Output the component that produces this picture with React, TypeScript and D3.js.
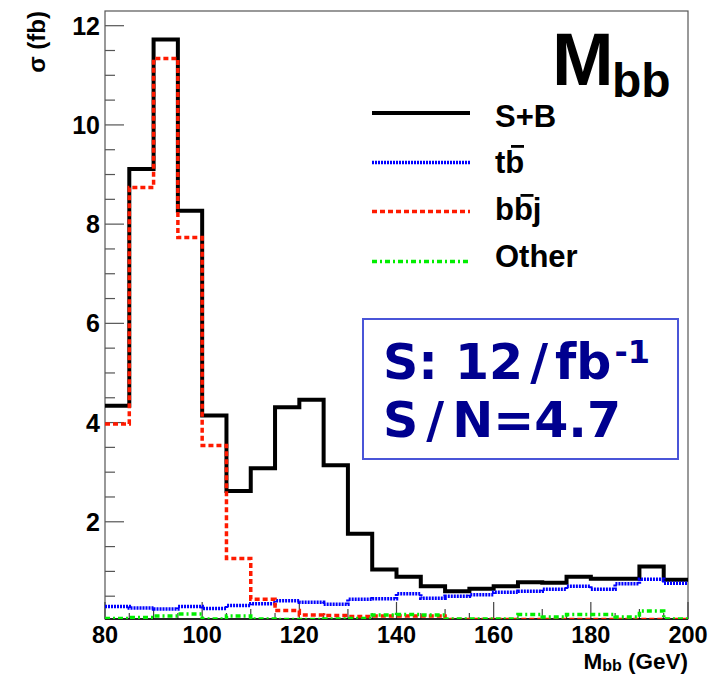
import React from "react";
import * as d3 from "d3";

const binEdges = [80, 85, 90, 95, 100, 105, 110, 115, 120, 125, 130, 135, 140, 145, 150, 155, 160, 165, 170, 175, 180, 185, 190, 195, 200];
const sPlusB = [4.34, 9.11, 11.72, 8.27, 4.14, 2.62, 3.08, 4.31, 4.46, 3.14, 1.76, 1.04, 0.89, 0.70, 0.60, 0.65, 0.70, 0.78, 0.77, 0.89, 0.85, 0.85, 1.10, 0.83];
const tbbar = [0.29, 0.26, 0.24, 0.29, 0.25, 0.31, 0.35, 0.41, 0.38, 0.34, 0.44, 0.45, 0.55, 0.46, 0.50, 0.53, 0.58, 0.60, 0.64, 0.70, 0.64, 0.75, 0.84, 0.76];
const bbbarj = [3.97, 8.74, 11.34, 7.73, 3.54, 1.26, 0.44, 0.21, 0.12, 0.11, 0.09, 0.10, 0.10, 0.10, 0.03, 0.03, 0.03, 0.03, 0.03, 0.03, 0.03, 0.03, 0.03, 0.03];
const other = [0.05, 0.07, 0.10, 0.14, 0.04, 0.10, 0.04, 0.03, 0.03, 0.04, 0.05, 0.12, 0.13, 0.12, 0.04, 0.04, 0.04, 0.13, 0.08, 0.13, 0.13, 0.08, 0.20, 0.04];

const xTicks = [80, 100, 120, 140, 160, 180, 200];
const yTicks = [2, 4, 6, 8, 10, 12];

const series = [
  { name: "S+B", values: sPlusB, color: "#000000", width: 4, dash: "" },
  { name: "tb", values: tbbar, color: "#0000ff", width: 3.5, dash: "2,1" },
  { name: "bbj", values: bbbarj, color: "#ff1a00", width: 3.5, dash: "5,3" },
  { name: "Other", values: other, color: "#00ee00", width: 3.5, dash: "5,3,2,3" },
];

const L = 105, R = 688, T = 11, B = 619;

export default function App() {
  const x = d3.scaleLinear().domain([80, 200]).range([L, R]);
  const y = d3.scaleLinear().domain([0, 12]).range([621, 25.7]);

  const line = d3
    .line<[number, number]>()
    .x((d) => x(d[0]))
    .y((d) => y(d[1]))
    .curve(d3.curveStepAfter);

  const pathFor = (vals: number[]) => {
    const pts: [number, number][] = vals.map((v, i) => [binEdges[i], v]);
    pts.push([binEdges[binEdges.length - 1], vals[vals.length - 1]]);
    return line(pts) || "";
  };

  const xMinor = d3.range(80, 200.1, 5);
  const yMinor = d3.range(0.5, 12.3, 0.5);

  const font = "'Liberation Sans', Arial, Helvetica, sans-serif";
  const vfont = "'DejaVu Sans', Verdana, sans-serif";

  const legendY = [113, 162.5, 211.5, 261.5];
  const labelBase = [126.5, 173, 220, 266.5];

  return (
    <svg width={720} height={675} style={{ position: "absolute", left: 0, top: 0, background: "#fff" }}>
      <rect x={0} y={0} width={720} height={675} fill="#fff" />
      <defs>
        <clipPath id="plot">
          <rect x={L} y={T} width={R - L} height={B - T} />
        </clipPath>
      </defs>

      {/* frame */}
      <rect x={L} y={T} width={R - L} height={B - T} fill="none" stroke="#555" strokeWidth={1.2} />

      {/* y ticks */}
      {yMinor.map((v) => {
        const major = Math.abs(v % 2) < 1e-6;
        return (
          <line key={"ym" + v} x1={L} x2={L + (major ? 19 : 10)} y1={y(v)} y2={y(v)} stroke="#555" strokeWidth={1.2} />
        );
      })}
      {yTicks.map((v) => (
        <text key={"yt" + v} x={100} y={y(v)} dy="0.36em" textAnchor="end" fontFamily={font} fontWeight="bold" fontSize={25}>
          {v}
        </text>
      ))}

      {/* x ticks */}
      {xMinor.map((v) => {
        const len = v % 20 === 0 ? 17 : v % 10 === 0 ? 10 : 6;
        return <line key={"xm" + v} x1={x(v)} x2={x(v)} y1={B} y2={B - len} stroke="#444" strokeWidth={1.2} />;
      })}
      {xTicks.map((v) => (
        <text key={"xt" + v} x={x(v)} y={643} textAnchor="middle" fontFamily={font} fontWeight="bold" fontSize={23.5}>
          {v}
        </text>
      ))}
      <line x1={L} x2={R} y1={B} y2={B} stroke="#000" strokeWidth={1.5} />

      {/* axis titles */}
      <text transform="translate(45,11) rotate(-90)" textAnchor="end" fontFamily={font} fontWeight="bold" fontSize={24}>
        σ (fb)
      </text>
      <text x={688} y={669} textAnchor="end" fontFamily={font} fontWeight="bold" fontSize={22.5}>
        M<tspan fontSize={16} dy={1.5}>bb</tspan>
        <tspan dy={-1.5}> (GeV)</tspan>
      </text>

      {/* histograms */}
      <g clipPath="url(#plot)">
        {series.map((s) => (
          <path key={s.name} d={pathFor(s.values)} fill="none" stroke={s.color} strokeWidth={s.width} strokeDasharray={s.dash || undefined} strokeLinejoin="miter" />
        ))}
      </g>

      {/* title */}
      <text x={552} y={85} fontFamily={font} fontWeight="bold" fontSize={74}>
        M
      </text>
      <text x={612} y={96.5} fontFamily={font} fontWeight="bold" fontSize={48}>
        bb
      </text>

      {/* legend */}
      {series.map((s, i) => (
        <line key={"lg" + s.name} x1={372} x2={470} y1={legendY[i]} y2={legendY[i]} stroke={s.color} strokeWidth={s.width} strokeDasharray={s.dash || undefined} />
      ))}
      <text x={495} y={labelBase[0]} fontFamily={font} fontWeight="bold" fontSize={31}>S+B</text>
      <text x={495} y={labelBase[1]} fontFamily={font} fontWeight="bold" fontSize={31}>tb</text>
      <rect x={511} y={145} width={13} height={2.8} fill="#000" />
      <text x={495} y={labelBase[2]} fontFamily={font} fontWeight="bold" fontSize={31}>bbj</text>
      <rect x={520.5} y={194} width={13} height={2.8} fill="#000" />
      <text x={495} y={labelBase[3]} fontFamily={font} fontWeight="bold" fontSize={31}>Other</text>

      {/* info box */}
      <rect x={363} y={319} width={315} height={140} fill="#fff" stroke="#4a55d8" strokeWidth={2} />
      <text x={383} y={379} fontFamily={vfont} fontWeight="bold" fontSize={49} fill="#00008f">
        S: 12<tspan dx={7}>/</tspan><tspan dx={7}>fb</tspan><tspan fontSize={32} dx={3} dy={-16}>-1</tspan>
      </text>
      <text x={383} y={437} fontFamily={vfont} fontWeight="bold" fontSize={49} fill="#00008f">
        S<tspan dx={8}>/</tspan><tspan dx={8}>N=4.7</tspan>
      </text>
    </svg>
  );
}
